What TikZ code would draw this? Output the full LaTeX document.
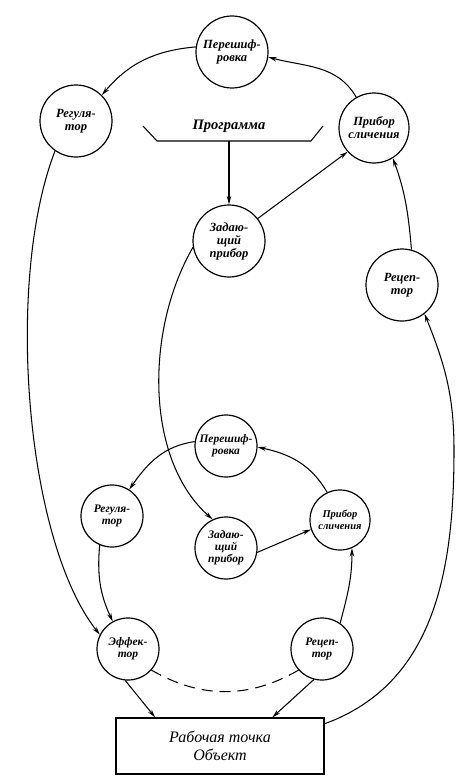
\documentclass[tikz,border=0pt]{standalone}
\usepackage{fontspec}
\setmainfont{Liberation Serif}
\usetikzlibrary{arrows.meta,calc}
\begin{document}
\begin{tikzpicture}[x=1pt,y=-1pt,
  big/.style={circle,draw,line width=1.2pt,minimum size=72pt,inner sep=0pt,align=center,
    font=\fontsize{12.5}{13}\selectfont\bfseries\itshape},
  small/.style={circle,draw,line width=1.2pt,minimum size=62pt,inner sep=0pt,align=center,
    font=\fontsize{11.5}{12}\selectfont\bfseries\itshape},
  conn/.style={line width=1.05pt,-{Stealth[length=8.5pt,width=4.5pt]}},
  plain/.style={line width=1.05pt}]
\useasboundingbox (0,0) rectangle (474,784);
% upper ring
\node[big] (P1) at (232,52) {Перешиф-\\ровка};
\node[big] (R1) at (76,121) {Регуля-\\тор};
\node[big,minimum size=70pt] (S1) at (374,128) {Прибор\\сличения};
\node[big] (Z1) at (229,241) {Задаю-\\щий\\прибор};
\node[big] (C1) at (402,285) {Рецеп-\\тор};
% program
\coordinate (b1) at (143,126);
\coordinate (b2) at (157,141);
\coordinate (b3) at (311,141);
\coordinate (b4) at (323,126);
\coordinate (bm) at (229,141);
\draw[plain] (b1) -- (b2) -- (b3) -- (b4);
\node[font=\fontsize{14.5}{15}\selectfont\bfseries\itshape] (prog) at (229,126) {Программа};
% lower ring
\node[small] (P2) at (226,446) {Перешиф-\\ровка};
\node[small] (R2) at (112,516) {Регуля-\\тор};
\node[small] (Z2) at (226,548) {Задаю-\\щий\\прибор};
\node[small,minimum size=60pt,font=\fontsize{10.5}{11.5}\selectfont\bfseries\itshape] (S2) at (340,520) {Прибор\\сличения};
\node[small] (E) at (128,649) {Эффек-\\тор};
\node[small] (C2) at (322,649) {Рецеп-\\тор};
\node[draw,line width=1.2pt,minimum width=208pt,minimum height=56pt,inner sep=0pt,align=center,
  font=\fontsize{16}{18}\selectfont\itshape] (box) at (220,746) {Рабочая точка\\Объект};
% upper connectors
\draw[conn] (P1.172) to[out=185,in=50] (R1.45);
\draw[conn] (S1.120) to[out=120,in=-15] (P1.-8);
\draw[conn] (Z1.38) -- (S1.222);
\draw[conn] (C1.75) to[out=95,in=-70] (S1.-58);
\draw[conn] (bm) -- (Z1.north);
\draw[conn] (R1.235) .. controls (5,280) and (25,540) .. (E.153);
\draw[conn] (Z1.190) .. controls (145,330) and (145,460) .. (Z2.115);
\coordinate (rr) at (454,450);
\draw[conn] (box.12) to[out=20,in=-90] (rr) to[out=90,in=-68] (C1.-52);
% lower connectors
\draw[conn] (P2.172) to[out=188,in=55] (R2.57);
\draw[conn] (S2.115) to[out=120,in=-12] (P2.-2);
\draw[conn] (Z2.-8) -- (S2.198);
\draw[conn] (R2.-113) to[out=-95,in=115] (E.119);
\draw[conn] (C2.55) to[out=75,in=-90] (S2.-67);
\draw[conn] (E.-95) -- ($(box.north west)!0.19!(box.north east)$);
\draw[conn] (C2.-105) -- ($(box.north west)!0.75!(box.north east)$);
\draw[plain,dash pattern=on 11pt off 7pt] (E.-42) to[out=-30,in=-150] (C2.-138);
\end{tikzpicture}
\end{document}
